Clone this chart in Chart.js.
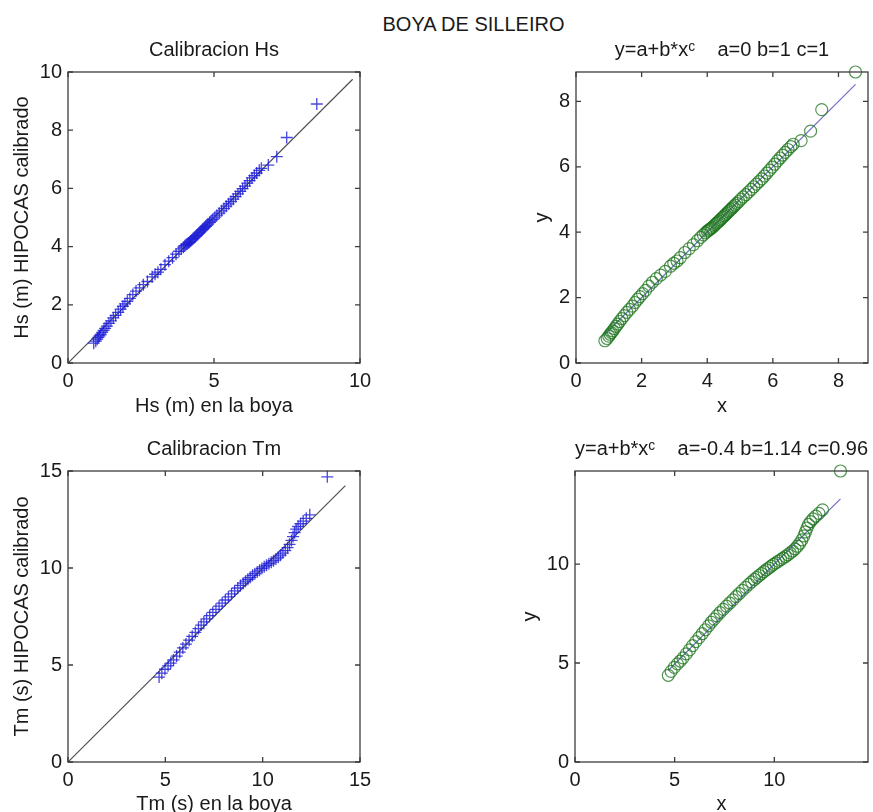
<!DOCTYPE html>
<html>
<head>
<meta charset="utf-8">
<script src="https://cdn.jsdelivr.net/npm/chart.js@4.4.1/dist/chart.umd.min.js"></script>
<style>
  html, body { margin: 0; padding: 0; background: #fff; overflow: hidden; }
  body { width: 873px; height: 812px; position: relative; font-family: 'Liberation Sans', Arial, sans-serif; }
  #main-title { position: absolute; left: 0; width: 947px; top: 12px; line-height: 24px; text-align: center; font-size: 20px; color: #1a1a1a; }
  canvas { position: absolute; }
</style>
</head>
<body>
<div id="main-title">BOYA DE SILLEIRO</div>
<canvas id="hsCal" width="436" height="394" style="left:0px; top:26px;"></canvas>
<canvas id="hsFit" width="437" height="394" style="left:436px; top:26px;"></canvas>
<canvas id="tmCal" width="436" height="400" style="left:0px; top:425px;"></canvas>
<canvas id="tmFit" width="437" height="400" style="left:436px; top:425px;"></canvas>
<script>
// Hs pairs (buoy vs calibrated HIPOCAS)
const hsBoya = [0.88, 0.95, 1.00, 1.04, 1.08, 1.12, 1.17, 1.22, 1.27, 1.33,
  1.40, 1.47, 1.55, 1.63, 1.72, 1.80, 1.88, 1.95, 2.03, 2.12,
  2.22, 2.33, 2.45, 2.58, 2.72, 2.88, 2.98, 3.08, 3.18, 3.32,
  3.45, 3.58, 3.70, 3.80, 3.88, 3.95, 4.00, 4.04, 4.08, 4.12,
  4.16, 4.20, 4.24, 4.28, 4.32, 4.36, 4.40, 4.44, 4.48, 4.52,
  4.56, 4.60, 4.64, 4.68, 4.72, 4.76, 4.80, 4.85, 4.90, 4.96,
  5.03, 5.10, 5.18, 5.26, 5.34, 5.42, 5.50, 5.58, 5.66, 5.74,
  5.82, 5.90, 5.98, 6.06, 6.14, 6.22, 6.30, 6.38, 6.46, 6.55,
  6.62, 6.86, 7.15, 7.49, 8.52];
const hsHipocas = [0.68, 0.75, 0.82, 0.88, 0.93, 0.98, 1.05, 1.12, 1.19, 1.27,
  1.36, 1.45, 1.55, 1.64, 1.74, 1.85, 1.95, 2.03, 2.12, 2.22,
  2.35, 2.47, 2.58, 2.69, 2.80, 2.96, 3.05, 3.12, 3.22, 3.38,
  3.50, 3.62, 3.74, 3.84, 3.92, 3.98, 4.03, 4.06, 4.09, 4.12,
  4.15, 4.19, 4.23, 4.27, 4.30, 4.34, 4.38, 4.42, 4.46, 4.50,
  4.54, 4.58, 4.62, 4.66, 4.70, 4.74, 4.78, 4.83, 4.88, 4.94,
  5.01, 5.08, 5.15, 5.23, 5.31, 5.39, 5.47, 5.55, 5.63, 5.72,
  5.81, 5.90, 5.99, 6.08, 6.18, 6.27, 6.36, 6.44, 6.53, 6.62,
  6.69, 6.80, 7.09, 7.75, 8.90];

// Tm pairs (buoy vs calibrated HIPOCAS)
const tmBoya = [4.68, 4.82, 4.98, 5.14, 5.28, 5.42, 5.58, 5.74, 5.90, 6.06,
  6.22, 6.38, 6.54, 6.70, 6.84, 6.98, 7.12, 7.28, 7.44, 7.60,
  7.76, 7.92, 8.08, 8.24, 8.40, 8.56, 8.72, 8.86, 9.00, 9.12,
  9.24, 9.36, 9.48, 9.60, 9.72, 9.84, 9.96, 10.08, 10.20, 10.32,
  10.44, 10.56, 10.68, 10.80, 10.92, 11.04, 11.16, 11.28, 11.38, 11.48,
  11.56, 11.64, 11.72, 11.82, 11.94, 12.08, 12.24, 12.42, 13.32];
const tmHipocas = [4.38, 4.58, 4.78, 4.96, 5.10, 5.26, 5.46, 5.66, 5.88, 6.08,
  6.28, 6.48, 6.68, 6.88, 7.06, 7.22, 7.38, 7.55, 7.71, 7.87,
  8.03, 8.19, 8.35, 8.51, 8.67, 8.82, 8.97, 9.10, 9.22, 9.32,
  9.42, 9.52, 9.62, 9.71, 9.80, 9.89, 9.98, 10.06, 10.14, 10.22,
  10.30, 10.38, 10.47, 10.56, 10.66, 10.77, 10.90, 11.05, 11.22, 11.42,
  11.62, 11.82, 12.00, 12.14, 12.28, 12.42, 12.56, 12.74, 14.70];

// Reference lines (diagonal y=x and fitted y=a+b*x^c)
const hsDiagX = [0, 9.75];
const tmDiagX = [0, 14.25];
const hsFitX = [0.88, 8.52];
const hsFitY = [0.88, 8.52];
const tmFitX = [4.68, 7, 10, 13.32];
const tmFitY = [4.62, 6.98, 10.0, 13.29];

// Axis limits and tick labels
const hsMax = 10, hsFitMax = 8.9, tmMax = 15, tmFitMax = 14.7;
const hsXTicks = [0, 5, 10];
const hsYTicks = [0, 2, 4, 6, 8, 10];
const hsFitTicks = [0, 2, 4, 6, 8];
const tmTicks = [0, 5, 10, 15];
const tmFitTicks = [0, 5, 10];

const FONT = "'Liberation Sans', Arial, sans-serif";
const TEXT = '#1a1a1a';
Chart.defaults.font.family = FONT;

function toPoints(xs, ys) {
  return xs.map((x, i) => ({ x: x, y: ys[i] }));
}

// Box around the plot area with inward ticks on all four sides
const boxPlugin = {
  id: 'box',
  afterDraw(chart) {
    const { ctx, chartArea: a, scales: { x, y } } = chart;
    const len = 5;
    ctx.save();
    ctx.strokeStyle = '#3c3c3c';
    ctx.lineWidth = 1.3;
    ctx.strokeRect(a.left, a.top, a.right - a.left, a.bottom - a.top);
    ctx.beginPath();
    x.ticks.forEach(t => {
      const px = x.getPixelForValue(t.value);
      ctx.moveTo(px, a.bottom); ctx.lineTo(px, a.bottom - len);
      ctx.moveTo(px, a.top); ctx.lineTo(px, a.top + len);
    });
    y.ticks.forEach(t => {
      const py = y.getPixelForValue(t.value);
      ctx.moveTo(a.left, py); ctx.lineTo(a.left + len, py);
      ctx.moveTo(a.right, py); ctx.lineTo(a.right - len, py);
    });
    ctx.stroke();
    ctx.restore();
  }
};

function makePanel(id, p) {
  return new Chart(document.getElementById(id), {
    type: 'scatter',
    data: { datasets: p.datasets },
    options: {
      responsive: false,
      animation: false,
      devicePixelRatio: 1,
      layout: { padding: { left: 0, right: p.padRight, top: 0, bottom: 0 }, autoPadding: false },
      plugins: {
        legend: { display: false },
        tooltip: { enabled: false },
        title: {
          display: true, text: p.title, fullSize: false, color: TEXT,
          font: { size: 20, weight: 'normal' }, padding: { top: 12, bottom: 10 }
        }
      },
      scales: {
        x: {
          type: 'linear', min: 0, max: p.xMax,
          grid: { display: false, drawTicks: false },
          border: { display: false },
          ticks: { color: TEXT, font: { size: 20 }, padding: 6, maxRotation: 0 },
          title: { display: true, text: p.xTitle, color: TEXT, font: { size: 20 }, padding: { top: 0, bottom: p.xTitlePad } },
          afterBuildTicks: s => { s.ticks = p.xTicks.map(v => ({ value: v })); },
          afterFit: s => { s.height = p.xHeight; s.paddingLeft = 0; s.paddingRight = 0; }
        },
        y: {
          type: 'linear', min: 0, max: p.yMax,
          grid: { display: false, drawTicks: false },
          border: { display: false },
          ticks: { color: TEXT, font: { size: 20 }, padding: 6 },
          title: { display: true, text: p.yTitle, color: TEXT, font: { size: 20 }, padding: { top: p.yTitlePad, bottom: 0 } },
          afterBuildTicks: s => { s.ticks = p.yTicks.map(v => ({ value: v })); },
          afterFit: s => { s.width = p.yWidth; s.paddingTop = 0; s.paddingBottom = 0; }
        }
      }
    },
    plugins: [boxPlugin]
  });
}

function crossSet(xs, ys) {
  return {
    data: toPoints(xs, ys), pointStyle: 'cross', pointRadius: 6, pointBorderWidth: 1.3,
    pointBorderColor: 'rgba(25, 25, 215, 0.8)', clip: false
  };
}

function circleSet(xs, ys) {
  return {
    data: toPoints(xs, ys), pointStyle: 'circle', pointRadius: 6, pointBorderWidth: 1.2,
    pointBorderColor: 'rgba(25, 115, 25, 0.75)', pointBackgroundColor: 'rgba(0,0,0,0)', clip: false
  };
}

function lineSet(xs, ys, color) {
  return {
    data: toPoints(xs, ys), showLine: true, pointRadius: 0, borderColor: color, borderWidth: 1.2
  };
}

makePanel('hsCal', {
  title: 'Calibracion Hs', xTitle: 'Hs (m) en la boya', yTitle: 'Hs (m) HIPOCAS calibrado',
  xMax: hsMax, yMax: hsMax, xTicks: hsXTicks, yTicks: hsYTicks,
  padRight: 76, yWidth: 68, xHeight: 57, xTitlePad: 2, yTitlePad: 10,
  datasets: [crossSet(hsBoya, hsHipocas), lineSet(hsDiagX, hsDiagX, '#505050')]
});

makePanel('hsFit', {
  title: 'y=a+b*x\u1D9C    a=0 b=1 c=1', xTitle: 'x', yTitle: 'y',
  xMax: hsFitMax, yMax: hsFitMax, xTicks: hsFitTicks, yTicks: hsFitTicks,
  padRight: 5, yWidth: 140, xHeight: 57, xTitlePad: 2, yTitlePad: 94,
  datasets: [circleSet(hsBoya, hsHipocas), lineSet(hsFitX, hsFitY, '#6e6ec8')]
});

makePanel('tmCal', {
  title: 'Calibracion Tm', xTitle: 'Tm (s) en la boya', yTitle: 'Tm (s) HIPOCAS calibrado',
  xMax: tmMax, yMax: tmMax, xTicks: tmTicks, yTicks: tmTicks,
  padRight: 76, yWidth: 68, xHeight: 63, xTitlePad: 9, yTitlePad: 10,
  datasets: [crossSet(tmBoya, tmHipocas), lineSet(tmDiagX, tmDiagX, '#505050')]
});

makePanel('tmFit', {
  title: 'y=a+b*x\u1D9C    a=-0.4 b=1.14 c=0.96', xTitle: 'x', yTitle: 'y',
  xMax: tmFitMax, yMax: tmFitMax, xTicks: tmFitTicks, yTicks: tmFitTicks,
  padRight: 5, yWidth: 139, xHeight: 63, xTitlePad: 9, yTitlePad: 82,
  datasets: [circleSet(tmBoya, tmHipocas), lineSet(tmFitX, tmFitY, '#6e6ec8')]
});
</script>
</body>
</html>
